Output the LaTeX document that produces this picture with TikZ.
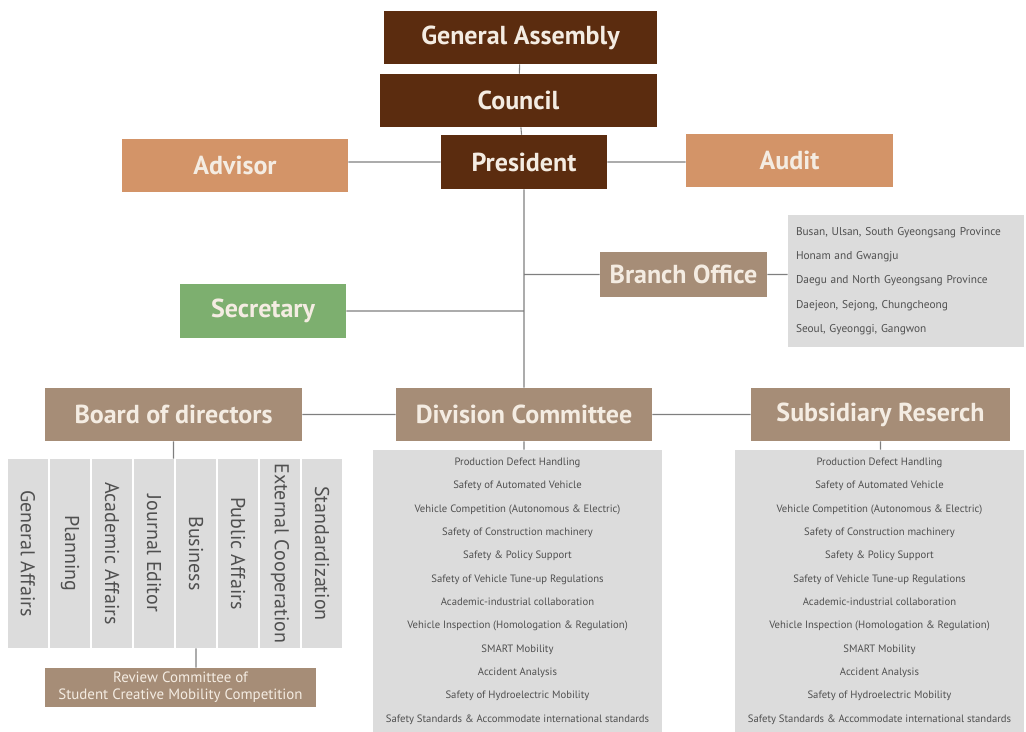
\documentclass[tikz,border=0pt]{standalone}
\usepackage{fontspec}
\setmainfont{PT Sans}
\definecolor{darkbrown}{HTML}{5B2C0F}
\definecolor{lightbrown}{HTML}{D39468}
\definecolor{taupe}{HTML}{A68D77}
\definecolor{greenbox}{HTML}{7DAF6F}
\definecolor{listgray}{HTML}{DCDCDC}
\definecolor{listtext}{HTML}{505050}
\definecolor{boxtext}{HTML}{F4ECE2}
\definecolor{linkgray}{HTML}{7F7F7F}

\begin{document}
\begin{tikzpicture}[
          x=0.75pt, y=-0.75pt,
          unit/.style={
            inner sep=0pt,
            text=boxtext,
            font=\bfseries\fontsize{19.5}{22}\selectfont,
          },
          head/.style={unit, fill=darkbrown},
          aside/.style={unit, fill=lightbrown},
          dept/.style={unit, fill=taupe},
          office/.style={
            inner sep=0pt,
            fill=listgray,
            text=listtext,
            rotate=-90,
            minimum width=141.75pt,
            minimum height=30pt,
            font=\fontsize{15}{17}\selectfont,
          },
          items/.style={
            inner sep=0pt,
            fill=listgray,
            text=listtext,
            align=center,
            font=\fontsize{8}{17.5}\selectfont,
          },
          link/.style={draw=linkgray, thick},
        ]
          \useasboundingbox (0,0) rectangle (1026,732);

          \node[head, minimum width=204.75pt, minimum height=39.75pt] (ga) at (520.5,37.5) {General Assembly};
          \node[head, minimum width=207.75pt, minimum height=39.75pt] (council) at (518.5,100.5) {Council};
          \node[head, minimum width=124.5pt, minimum height=40.5pt] (president) at (524,162) {President};
          \node[aside, minimum width=169.5pt, minimum height=39.75pt] (advisor) at (235,165.5) {Advisor};
          \node[aside, minimum width=155.25pt, minimum height=39.75pt] (audit) at (789.5,160.5) {Audit};

          \node[dept, minimum width=125.25pt, minimum height=33.75pt] (branch) at (683.5,274.5) {Branch Office};
          \node[items, minimum width=177pt, minimum height=99pt, text width=165pt, align=left,
                font=\fontsize{8.5}{18.2}\selectfont] (regions) at (906,281)
            {Busan, Ulsan, South Gyeongsang Province\\
             Honam and Gwangju\\
             Daegu and North Gyeongsang Province\\
             Daejeon, Sejong, Chungcheong\\
             Seoul, Gyeonggi, Gangwon};
          \node[unit, fill=greenbox, minimum width=124.5pt, minimum height=40.5pt] (secretary) at (263,311) {Secretary};

          \node[dept, minimum width=192.75pt, minimum height=39.75pt] (board) at (173.5,414.5) {Board of directors};
          \node[dept, minimum width=192pt, minimum height=39.75pt] (division) at (524,414.5) {Division Committee};
          \node[dept, minimum width=194.25pt, minimum height=39.75pt] (subsidiary) at (880.5,414.5) {Subsidiary Reserch};

          \foreach \name [count=\i] in {General Affairs, Planning, Academic Affairs, Journal Editor,
                                         Business, Public Affairs, External Cooperation, Standardization}
            \node[office] (office\i) at ({28+(\i-1)*42},553.5) {\name};

          \node[dept, minimum width=203.25pt, minimum height=29.25pt, align=center,
                font=\fontsize{11.2}{12.5}\selectfont] (review) at (180.5,687.5)
            {Review Committee of\\Student Creative Mobility Competition};

          \node[items, minimum width=216.75pt, minimum height=211.5pt] (divlist) at (517.5,591)
            {Production Defect Handling\\
             Safety of Automated Vehicle\\
             Vehicle Competition (Autonomous \& Electric)\\
             Safety of Construction machinery\\
             Safety \& Policy Support\\
             Safety of Vehicle Tune-up Regulations\\
             Academic-industrial collaboration\\
             Vehicle Inspection (Homologation \& Regulation)\\
             SMART Mobility\\
             Accident Analysis\\
             Safety of Hydroelectric Mobility\\
             Safety Standards \& Accommodate international standards};
          \node[items, minimum width=216.75pt, minimum height=211.5pt] (sublist) at (879.5,591)
            {Production Defect Handling\\
             Safety of Automated Vehicle\\
             Vehicle Competition (Autonomous \& Electric)\\
             Safety of Construction machinery\\
             Safety \& Policy Support\\
             Safety of Vehicle Tune-up Regulations\\
             Academic-industrial collaboration\\
             Vehicle Inspection (Homologation \& Regulation)\\
             SMART Mobility\\
             Accident Analysis\\
             Safety of Hydroelectric Mobility\\
             Safety Standards \& Accommodate international standards};

          \draw[link]
              (ga) -- (council)
              (council) -- (president)
              (president.west -| advisor.east) -- (president.west)
              (president.east) -- (president.east -| audit.west)
              (president.south) -- (division.north)
              (branch.west) -- (branch.west -| president.south)
              (branch.east) -- (branch.east -| regions.west)
              (secretary.east) -- (secretary.east -| president.south)
              (board) -- (division)
              (division) -- (subsidiary)
              (board.south) -- (board.south |- office1.west)
              (office5.east) -- (office5.east |- review.north)
              (division.south) -- (division.south |- divlist.north)
              (subsidiary.south) -- (subsidiary.south |- sublist.north);
        \end{tikzpicture}
\end{document}
